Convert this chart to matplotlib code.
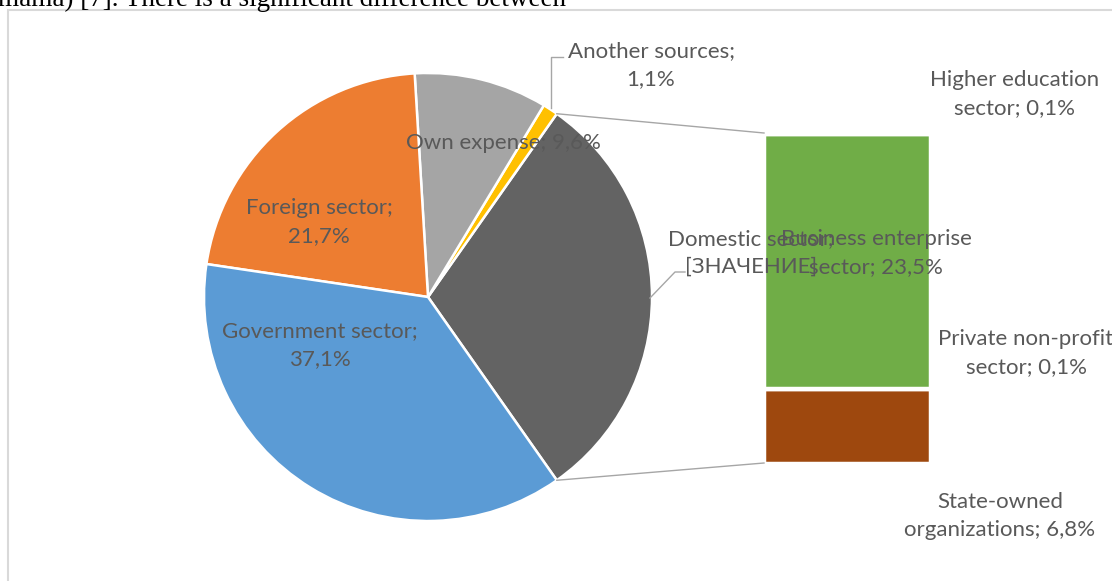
import numpy as np
import matplotlib.pyplot as plt
from matplotlib.patches import Rectangle

# pie part (percent)
pie_labels = ["Domestic sector;\n[ЗНАЧЕНИЕ]", "Another sources;\n1,1%", "Own expense; 9,6%",
              "Foreign sector;\n21,7%", "Government sector;\n37,1%"]
pie_values = [30.5, 1.1, 9.6, 21.7, 37.1]
pie_colors = ["#636363", "#FFC000", "#A5A5A5", "#ED7D31", "#5B9BD5"]

# bar part, stacked from bottom (percent)
bar_labels = ["State-owned\norganizations; 6,8%", "Private non-profit\nsector; 0,1%",
              "Business enterprise\nsector; 23,5%", "Higher education\nsector; 0,1%"]
bar_values = [6.8, 0.1, 23.5, 0.1]
bar_colors = ["#9E480E", "#997300", "#70AD47", "#264478"]

W, H = 1112, 581
fig = plt.figure(figsize=(W / 100, H / 100), dpi=100)
ax = fig.add_axes([0, 0, 1, 1])

def Y(y):
    # image row -> data y
    return H - y

cx, cy, r = 428, Y(297), 224
start = -pie_values[0] / 2 * 3.6
ax.pie(pie_values, colors=pie_colors, center=(cx, cy), radius=r, startangle=start,
       counterclock=True, wedgeprops=dict(edgecolor="white", linewidth=1.8))

# stacked bar
bx, bw = 847, 166
bar_bottom = Y(463)
scale = (Y(133) - bar_bottom) / sum(bar_values)
bottom = bar_bottom
for v, c in zip(bar_values, bar_colors):
    ax.bar(bx, v * scale, width=bw, bottom=bottom, color=c, edgecolor="white", linewidth=2.5)
    bottom += v * scale

# connector lines from split slice to bar
a = np.radians(-start)
ax.plot([cx + r * np.cos(a), bx - bw / 2], [cy + r * np.sin(a), bottom], color="#a6a6a6", lw=1)
ax.plot([cx + r * np.cos(a), bx - bw / 2], [cy - r * np.sin(a), bar_bottom], color="#a6a6a6", lw=1)

# leader lines
ax.plot([551, 551, 563], [Y(108), Y(57), Y(57)], color="#a6a6a6", lw=1)
ax.plot([650, 675, 685], [Y(298), Y(272), Y(272)], color="#a6a6a6", lw=1)

ax.set_xlim(0, W)
ax.set_ylim(0, H)
ax.axis("off")

txt = dict(color="#595959", fontsize=16, family="Lato", ha="center", va="center",
           linespacing=1.5)
label_pos = {
    pie_labels[0]: (751, 253),
    pie_labels[1]: (651, 65),
    pie_labels[2]: (503, 143),
    pie_labels[3]: (319, 222),
    pie_labels[4]: (320, 345),
    bar_labels[0]: (1000, 516),
    bar_labels[1]: (1026, 353),
    bar_labels[2]: (876, 253),
    bar_labels[3]: (1015, 94),
}
for lab, (x, y) in label_pos.items():
    ax.text(x, Y(y), lab, **txt)

# chart frame and clipped text line above it
fig.add_artist(Rectangle((8 / W, -0.1), 2, 1.1 - 10 / H, transform=fig.transFigure,
                         fill=False, ec="#d9d9d9", lw=1.5))
fig.text(-2 / W, 1 - 6 / H, "mama) [7]. There is a significant difference between",
         family="Liberation Serif", fontsize=19.5, va="baseline", ha="left", color="black")

fig.savefig("out.png", dpi=100)
